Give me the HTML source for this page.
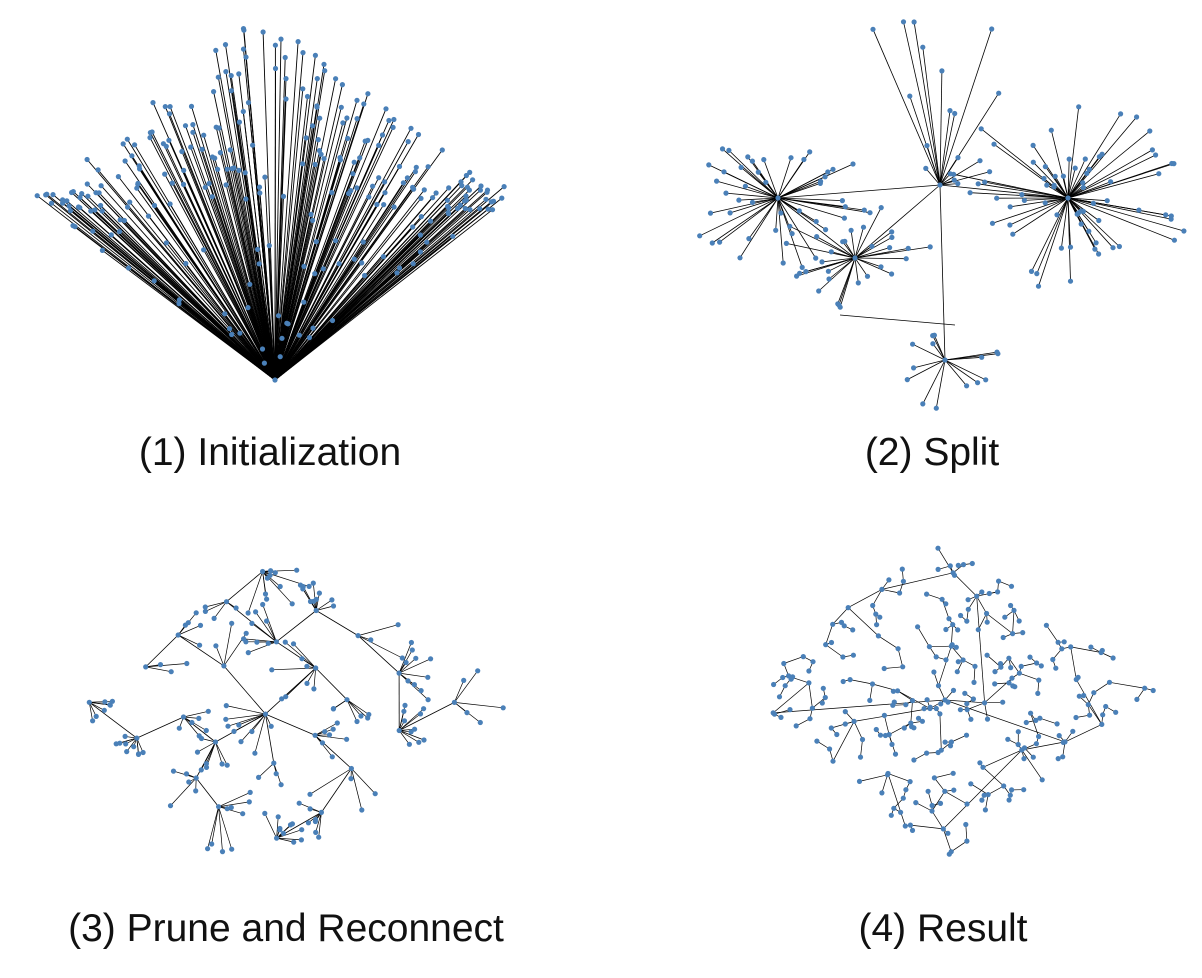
<!DOCTYPE html>
<html><head><meta charset="utf-8">
<style>
html,body{margin:0;padding:0;background:#fff;}
body{width:1202px;height:978px;position:relative;overflow:hidden;font-family:"Liberation Sans",sans-serif;}
svg{position:absolute;left:0;top:0;}
.lbl{position:absolute;font-size:39px;color:#111;white-space:nowrap;transform:translateX(-50%);}
</style></head><body>
<svg id="s" width="1202" height="978" xmlns="http://www.w3.org/2000/svg"></svg>
<div class="lbl" style="left:270px;top:431px">(1) Initialization</div>
<div class="lbl" style="left:932px;top:431px">(2) Split</div>
<div class="lbl" style="left:286px;top:907px">(3) Prune and Reconnect</div>
<div class="lbl" style="left:943px;top:907px">(4) Result</div>
<script>
var seed=12345;function R(){seed=(seed*1103515245+12345)%2147483648;return seed/2147483648;}
var L=[],D=[];
function line(a,b,w){L.push('<line x1="'+a[0].toFixed(1)+'" y1="'+a[1].toFixed(1)+'" x2="'+b[0].toFixed(1)+'" y2="'+b[1].toFixed(1)+'" stroke="#000" stroke-width="'+(w||0.8)+'"/>');}
function dot(p){D.push('<circle cx="'+p[0].toFixed(1)+'" cy="'+p[1].toFixed(1)+'" r="2.6" fill="#4a80b8"/>');}
function inQuad(p,q){var n=q.length;for(var i=0;i<n;i++){var a=q[i],b=q[(i+1)%n];var c=(b[0]-a[0])*(p[1]-a[1])-(b[1]-a[1])*(p[0]-a[0]);if(c<0)return false;}return true;}
function samp(q){var xs=q.map(a=>a[0]),ys=q.map(a=>a[1]);var x0=Math.min(...xs),x1=Math.max(...xs),y0=Math.min(...ys),y1=Math.max(...ys);for(;;){var p=[x0+R()*(x1-x0),y0+R()*(y1-y0)];if(inQuad(p,q))return p;}}
// panel1
var q1=[[35,200],[260,10],[505,195],[275,380]];
var ap=[275,380];
var P1=[];
for(var i=0;i<140;i++)P1.push(samp(q1));
for(var i=0;i<90;i++){var t=R();var a,b;if(R()<0.5){a=[35,200];b=[260,10];}else{a=[505,195];b=[260,10];}var p=[a[0]+(b[0]-a[0])*t,a[1]+(b[1]-a[1])*t];var s=0.7+R()*0.3;P1.push([ap[0]+(p[0]-ap[0])*s,ap[1]+(p[1]-ap[1])*s]);}
for(var i=0;i<40;i++){var c=R()<0.5?[45,203]:[495,198];P1.push([c[0]+(R()-0.5)*60*(c[0]<100?1:-1)+(c[0]<100?20:-20),c[1]+(R()-0.5)*25]);}
P1.forEach(function(p){line(ap,p,0.9);dot(p);});
dot(ap);
// panel2
var hubs=[[778,198],[855,258],[940,185],[1068,198],[945,360]];
var spec=[[45,80,55],[30,60,55],[18,180,40],[70,110,100],[14,45,25]];
hubs.forEach(function(h,k){var s=spec[k];for(var i=0;i<s[0];i++){var a=R()*Math.PI*2,r=20+R()*s[1];var p=[h[0]+Math.cos(a)*r*(k==2?0.4:1),h[1]+Math.sin(a)*r*(k==2?0.9:0.75)];if(k==2)p[1]=h[1]-R()*170;line(h,p,0.8);dot(p);}});
line(hubs[0],hubs[2]);line(hubs[2],hubs[3]);line(hubs[0],hubs[1]);line(hubs[1],hubs[2]);line(hubs[2],hubs[4]);line([840,315],[955,325]);
hubs.forEach(dot);
// panel3
var q3=[[55,705],[265,550],[485,700],[275,875]];
var H=[];
for(var gx=0;gx<5;gx++)for(var gy=0;gy<5;gy++){var u=(gx+0.3+R()*0.4)/5,v=(gy+0.3+R()*0.4)/5;
 var x=55+u*(265-55)+v*(485-265)- (0);var p=[ (1-u)*(1-v)*55+u*(1-v)*265+u*v*485+(1-u)*v*275, (1-u)*(1-v)*705+u*(1-v)*550+u*v*700+(1-u)*v*875];H.push(p);}
H.sort(function(a,b){return Math.hypot(a[0]-270,a[1]-700)-Math.hypot(b[0]-270,b[1]-700);});
H.forEach(function(h,i){if(i>0){var best=0,bd=1e9;for(var j=0;j<i;j++){var d=Math.hypot(H[j][0]-h[0],H[j][1]-h[1]);if(d<bd){bd=d;best=j;}}line(h,H[best]);}var n=3+Math.floor(R()*9);var rr=15+R()*35;var ang=R()*6.28;for(var k=0;k<n;k++){var a=ang+(R()-0.5)*2.5;var r=8+R()*rr;var p=[h[0]+Math.cos(a)*r,h[1]+Math.sin(a)*r];line(h,p,0.7);dot(p);}dot(h);});
// panel4
var q4=[[735,690],[940,540],[1165,685],[945,860]];
var P=[[945,700]];dot(P[0]);
for(var i=0;i<260;i++){var p=samp(q4);var best=0,bd=1e9;for(var j=0;j<P.length;j++){var d=Math.hypot(P[j][0]-p[0],P[j][1]-p[1]);if(d<bd){bd=d;best=j;}}line(p,P[best],0.7);P.push(p);dot(p);}
document.getElementById('s').innerHTML=L.join('')+D.join('');
</script>
</body></html>
